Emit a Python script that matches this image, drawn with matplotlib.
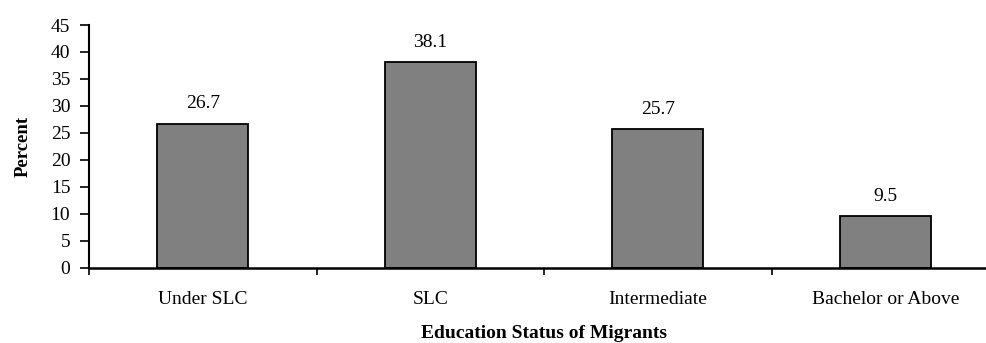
import matplotlib.pyplot as plt
import numpy as np

categories = ['Under SLC', 'SLC', 'Intermediate', 'Bachelor or Above']
percent = [26.7, 38.1, 25.7, 9.5]

plt.rcParams['font.family'] = ['Liberation Serif', 'DejaVu Serif']
fs = 14

fig = plt.figure(figsize=(9.87, 3.43), dpi=100)
ax = fig.add_axes([0.0902, 0.220, 0.922, 0.707])

x = np.arange(len(categories))
bars = ax.bar(x, percent, width=0.4, color='#808080', edgecolor='black', linewidth=1.3)
for b, v in zip(bars, percent):
    ax.text(b.get_x() + b.get_width() / 2, v + 3.7, f'{v:.1f}',
            ha='center', va='center', fontsize=fs)

ax.set_xlim(-0.5, len(categories) - 0.5)
ax.set_ylim(0, 45)
ax.set_yticks(range(0, 46, 5))
# boundary ticks between categories, names sit on minor ticks
ax.set_xticks(np.arange(-0.5, len(categories), 1))
ax.set_xticklabels([])
ax.set_xticks(x, minor=True)
ax.set_xticklabels(categories, minor=True)
ax.tick_params(axis='x', which='minor', length=0, labelsize=fs, pad=17)
ax.tick_params(axis='x', which='major', length=5, width=1.2, direction='out')
ax.tick_params(axis='y', length=6.5, width=1.2, labelsize=fs, pad=7)

for s in ['top', 'right']:
    ax.spines[s].set_visible(False)
ax.spines['left'].set_linewidth(1.5)
ax.spines['bottom'].set_linewidth(1.8)

ax.set_ylabel('Percent', fontsize=13.5, fontweight='bold', labelpad=14)
ax.set_xlabel('Education Status of Migrants', fontsize=fs, fontweight='bold', labelpad=12)

fig.savefig('out.png', dpi=100)
